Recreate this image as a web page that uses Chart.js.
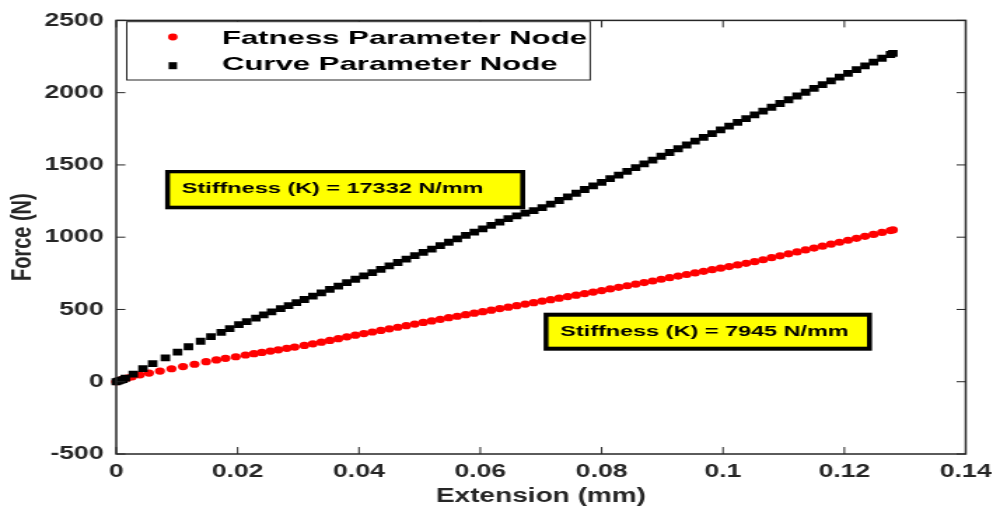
<!DOCTYPE html>
<html>
<head>
<meta charset="utf-8">
<script src="https://cdn.jsdelivr.net/npm/chart.js@4"></script>
<style>
  html, body { margin: 0; padding: 0; background: #fff; overflow: hidden; }
</style>
</head>
<body>
<!-- figure is stretched sideways like the exported original; inline style so Chart.js keeps it -->
<canvas id="chart" width="714" height="509" style="display:block;width:1000px;height:509px"></canvas>
<script>
const X_TICKS = [0, 0.02, 0.04, 0.06, 0.08, 0.1, 0.12, 0.14];
const Y_TICKS = [-500, 0, 500, 1000, 1500, 2000, 2500];

const LEGEND_LABELS = ['Fatness Parameter Node', 'Curve Parameter Node'];
const STIFFNESS_LABELS = ['Stiffness (K) = 17332 N/mm', 'Stiffness (K) = 7945 N/mm'];

// Fatness parameter node (red circles): extension (mm) / force (N)
const FATNESS_X = [
    0, 0.0005, 0.0011, 0.0018, 0.0026, 0.0039, 0.0054, 0.0072, 0.0091, 0.0110,
    0.0129, 0.0148, 0.0165, 0.0180, 0.0197, 0.0213, 0.0227, 0.0240, 0.0254, 0.0267,
    0.0281, 0.0294,
    0.0310, 0.0324, 0.0338, 0.0352, 0.0366, 0.0380, 0.0394, 0.0408, 0.0422, 0.0436,
    0.0450, 0.0464, 0.0478, 0.0492, 0.0506, 0.0520, 0.0534, 0.0548, 0.0562, 0.0576,
    0.0590, 0.0604, 0.0618, 0.0632, 0.0646, 0.0660, 0.0674, 0.0688, 0.0702, 0.0716,
    0.0730, 0.0744, 0.0758, 0.0772, 0.0786, 0.0800, 0.0814, 0.0828, 0.0842, 0.0856,
    0.0870, 0.0884, 0.0898, 0.0912, 0.0926, 0.0940, 0.0954, 0.0968, 0.0982, 0.0996,
    0.1010, 0.1024, 0.1038, 0.1052, 0.1066, 0.1080, 0.1094, 0.1108, 0.1122, 0.1136,
    0.1150, 0.1164, 0.1178, 0.1192, 0.1206, 0.1220, 0.1234, 0.1248, 0.1262, 0.1276, 0.1280,
];
const FATNESS_F = [
    0, 9, 18, 26, 34, 48, 60, 74, 90, 105,
    121, 139, 151, 162, 173, 185, 194, 203, 212, 221,
    231, 240,
    251, 262, 274, 286, 298, 311, 322, 333, 344, 355,
    366, 377, 388, 399, 410, 421, 432, 443, 453, 464,
    474, 485, 495, 506, 516, 526, 537, 547, 558, 568,
    578, 589, 599, 610, 620, 631, 642, 653, 664, 675,
    686, 697, 709, 720, 731, 742, 753, 764, 775, 786,
    797, 808, 819, 831, 844, 858, 871, 885, 898, 912,
    925, 938, 952, 965, 979, 992, 1006, 1019, 1033, 1046, 1050,
];

// Curve parameter node (black squares)
const CURVE_X = [
    0, 0.0003, 0.0007, 0.0011, 0.0015, 0.0028, 0.0044, 0.0060, 0.0081, 0.0101,
    0.0119, 0.0139, 0.0156, 0.0173, 0.0187, 0.0202, 0.0215, 0.0230, 0.0243, 0.0256,
    0.0271, 0.0284, 0.0297,
    0.0310, 0.0324, 0.0338, 0.0352, 0.0366, 0.0380, 0.0394, 0.0408, 0.0422, 0.0436,
    0.0450, 0.0464, 0.0478, 0.0492, 0.0506, 0.0520, 0.0534, 0.0548, 0.0562, 0.0576,
    0.0590, 0.0604, 0.0618, 0.0632, 0.0646, 0.0660, 0.0674, 0.0688, 0.0702, 0.0716,
    0.0730, 0.0744, 0.0758, 0.0772, 0.0786, 0.0800, 0.0814, 0.0828, 0.0842, 0.0856,
    0.0870, 0.0884, 0.0898, 0.0912, 0.0926, 0.0940, 0.0954, 0.0968, 0.0982, 0.0996,
    0.1010, 0.1024, 0.1038, 0.1052, 0.1066, 0.1080, 0.1094, 0.1108, 0.1122, 0.1136,
    0.1150, 0.1164, 0.1178, 0.1192, 0.1206, 0.1220, 0.1234, 0.1248, 0.1262, 0.1276, 0.1280,
];
const CURVE_F = [
    0, 4, 9, 15, 25, 52, 90, 125, 165, 205,
    242, 280, 312, 342, 368, 395, 416, 440, 463, 484,
    506, 527, 548,
    569, 592, 615, 639, 662, 685, 709, 732, 755, 778,
    802, 825, 849, 872, 895, 918, 942, 965, 988, 1012,
    1035, 1058, 1082, 1105, 1128, 1148, 1166, 1184, 1204, 1229,
    1254, 1279, 1304, 1330, 1355, 1380, 1405, 1430, 1456, 1481,
    1507, 1533, 1560, 1586, 1612, 1638, 1664, 1690, 1716, 1742,
    1768, 1795, 1821, 1847, 1873, 1899, 1925, 1951, 1977, 2003,
    2030, 2056, 2082, 2108, 2134, 2160, 2186, 2212, 2238, 2264, 2272,
];

const AXIS_COLOR = '#262626';
const RED = '#ff0000';
const BLACK = '#000000';
const YELLOW = '#ffff00';
const SANS = "'Liberation Sans', Arial, Helvetica, sans-serif";
const NARROW = "'Liberation Sans Narrow', 'Arial Narrow', 'Liberation Sans', Arial, sans-serif";

function toPoints(xs, ys) {
    return xs.map((x, i) => ({ x, y: ys[i] }));
}

// Text squeezed/stretched so it fills a given width
function fitText(ctx, text, x, y, sx) {
    ctx.save();
    ctx.translate(x, y);
    ctx.scale(sx, 1);
    ctx.fillText(text, 0, 0);
    ctx.restore();
}

function drawLegend(ctx) {
    ctx.save();
    ctx.fillStyle = '#fff';
    ctx.fillRect(90.5, 21.7, 330.9, 58.3);
    ctx.strokeStyle = AXIS_COLOR;
    ctx.lineWidth = 1;
    ctx.strokeRect(90.5, 21.7, 330.9, 58.3);

    ctx.fillStyle = RED;
    ctx.beginPath();
    ctx.arc(123.4, 37, 3.4, 0, Math.PI * 2);
    ctx.fill();
    ctx.fillStyle = BLACK;
    ctx.fillRect(120.4, 62.2, 6, 7);

    ctx.font = `bold 19px ${SANS}`;
    ctx.textBaseline = 'middle';
    ctx.fillStyle = BLACK;
    const sx = 260.7 / ctx.measureText(LEGEND_LABELS[0]).width;
    fitText(ctx, LEGEND_LABELS[0], 158.4, 38.5, sx);
    fitText(ctx, LEGEND_LABELS[1], 158.4, 65.2, sx);
    ctx.restore();
}

function drawStiffnessBox(ctx, text, outer, inner, tx, ty, tw) {
    ctx.save();
    ctx.fillStyle = BLACK;
    ctx.fillRect(outer[0], outer[1], outer[2] - outer[0], outer[3] - outer[1]);
    ctx.fillStyle = YELLOW;
    ctx.fillRect(inner[0], inner[1], inner[2] - inner[0], inner[3] - inner[1]);
    ctx.font = `bold 15px ${SANS}`;
    ctx.textBaseline = 'middle';
    ctx.fillStyle = BLACK;
    fitText(ctx, text, tx, ty, tw / ctx.measureText(text).width);
    ctx.restore();
}

const framePlugin = {
    id: 'frame',
    afterDatasetsDraw(chart) {
        const { ctx, chartArea: a, scales: { x, y } } = chart;
        ctx.save();
        ctx.strokeStyle = AXIS_COLOR;
        ctx.lineWidth = 1.5;
        ctx.strokeRect(a.left, a.top, a.right - a.left, a.bottom - a.top);

        // MATLAB style inward ticks on all four sides
        ctx.lineWidth = 1;
        ctx.beginPath();
        X_TICKS.forEach(v => {
            const px = x.getPixelForValue(v);
            ctx.moveTo(px, a.bottom); ctx.lineTo(px, a.bottom - 7);
            ctx.moveTo(px, a.top);    ctx.lineTo(px, a.top + 7);
        });
        Y_TICKS.forEach(v => {
            const py = y.getPixelForValue(v);
            ctx.moveTo(a.left, py);  ctx.lineTo(a.left + 6.5, py);
            ctx.moveTo(a.right, py); ctx.lineTo(a.right - 6.5, py);
        });
        ctx.stroke();
        ctx.restore();
    },
    afterDraw(chart) {
        const ctx = chart.ctx;
        drawLegend(ctx);
        drawStiffnessBox(ctx, STIFFNESS_LABELS[0],
            [117.9, 170, 375, 209.3], [121.4, 173.3, 371.4, 205.7], 129.8, 189, 215.4);
        drawStiffnessBox(ctx, STIFFNESS_LABELS[1],
            [388.1, 312.7, 622.6, 350.7], [391.6, 316.7, 619, 346.7], 400, 331.5, 206);
    },
};

const tickFont = { family: NARROW, size: 19, weight: 'bold' };
const titleFont = { family: SANS, size: 20, weight: 'bold' };

new Chart(document.getElementById('chart'), {
    type: 'scatter',
    data: {
        datasets: [
            {
                label: LEGEND_LABELS[0],
                data: toPoints(FATNESS_X, FATNESS_F),
                pointStyle: 'circle',
                pointRadius: 3.6,
                backgroundColor: RED,
                borderWidth: 0,
                clip: 10,
                order: 2,
            },
            {
                label: LEGEND_LABELS[1],
                data: toPoints(CURVE_X, CURVE_F),
                pointStyle: 'rect',
                pointRadius: 4.8,
                backgroundColor: BLACK,
                borderWidth: 0,
                clip: 10,
                order: 1,
            },
        ],
    },
    options: {
        responsive: false,
        devicePixelRatio: 1,
        animation: false,
        layout: { padding: { top: 16, right: 18, left: 0, bottom: 0 } },
        plugins: {
            legend: { display: false },
            tooltip: { enabled: false },
        },
        scales: {
            x: {
                type: 'linear',
                min: 0,
                max: 0.14,
                afterBuildTicks: s => { s.ticks = X_TICKS.map(v => ({ value: v })); },
                afterFit: s => { s.height = 55; },
                grid: { display: false, drawTicks: false },
                border: { display: false },
                ticks: {
                    padding: 6,
                    color: AXIS_COLOR,
                    font: tickFont,
                    maxRotation: 0,
                    callback: v => String(+v.toFixed(2)),
                },
                title: {
                    display: true,
                    text: 'Extension (mm)',
                    color: AXIS_COLOR,
                    font: titleFont,
                    padding: { top: 0, bottom: 1 },
                },
            },
            y: {
                type: 'linear',
                min: -500,
                max: 2500,
                afterBuildTicks: s => { s.ticks = Y_TICKS.map(v => ({ value: v })); },
                afterFit: s => { s.width = 83; },
                grid: { display: false, drawTicks: false },
                border: { display: false },
                ticks: {
                    padding: 9,
                    color: AXIS_COLOR,
                    font: tickFont,
                    callback: v => String(v),
                },
                title: {
                    display: true,
                    text: 'Force (N)',
                    color: AXIS_COLOR,
                    font: titleFont,
                    padding: { top: 4, bottom: 0 },
                },
            },
        },
    },
    plugins: [framePlugin],
});
</script>
</body>
</html>
